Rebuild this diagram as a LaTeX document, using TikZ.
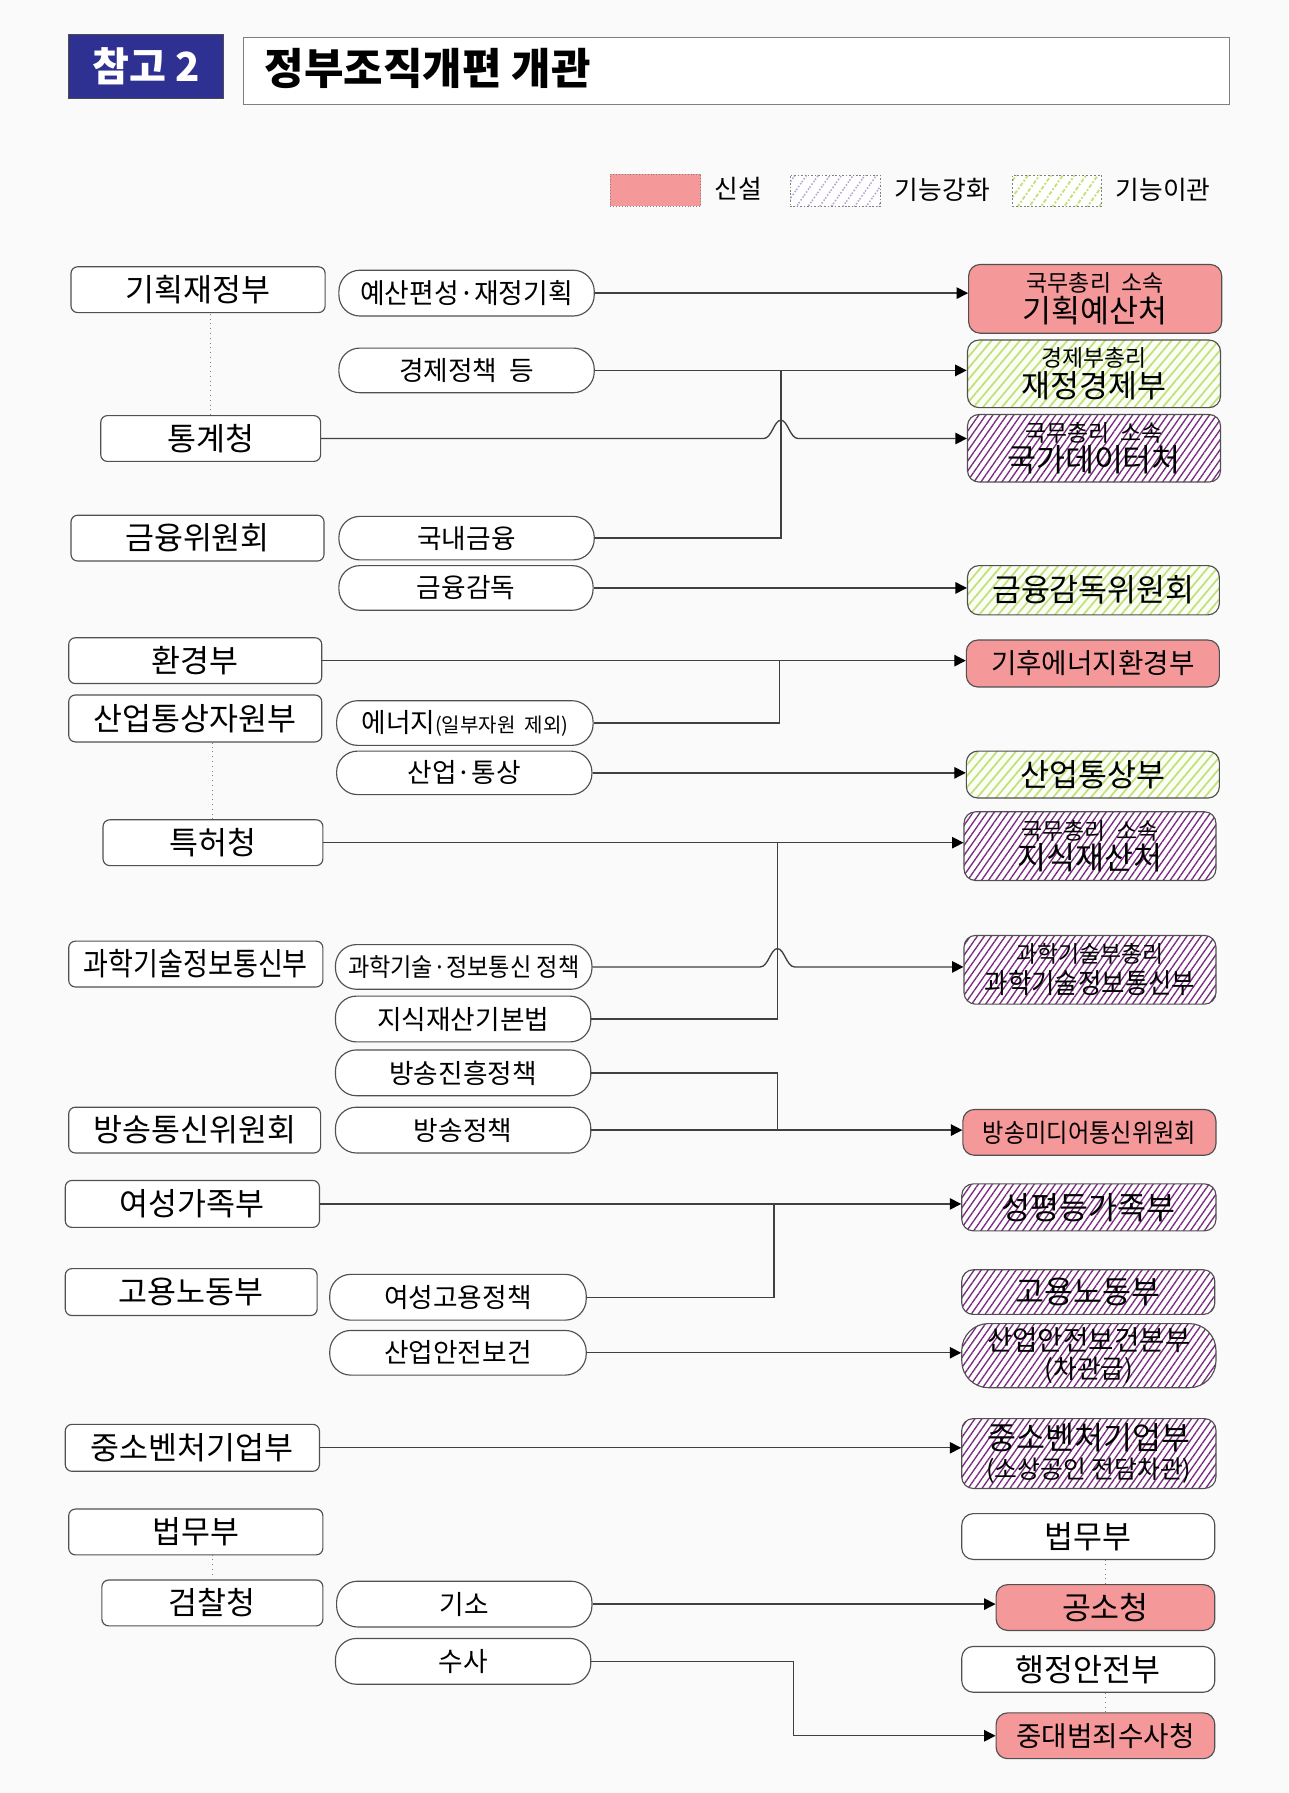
\documentclass[tikz,border=0pt]{standalone}
\usepackage{fontspec}
\usepackage{graphicx}
\setmainfont{Noto Sans CJK KR}
\usetikzlibrary{patterns.meta,arrows.meta,calc}
\definecolor{bgc}{HTML}{FAFAFA}
\definecolor{bord}{HTML}{505050}
\definecolor{linec}{HTML}{404040}
\definecolor{redc}{HTML}{F5989A}
\definecolor{purc}{HTML}{7A2A80}
\definecolor{grnc}{HTML}{C2E07A}
\definecolor{grnbg}{HTML}{FBFEF4}
\definecolor{lpurc}{HTML}{B9A2D2}
\definecolor{lgrnc}{HTML}{C4E274}
\definecolor{bluec}{HTML}{2E3192}
\newcommand\fzL{\fontsize{16.5}{18}\selectfont}
\newcommand\fzM{\fontsize{14}{16}\selectfont}
\newcommand\fzR{\fontsize{16.5}{18}\selectfont}
\newcommand\fzS{\fontsize{12}{13}\selectfont}
\newcommand\fzG{\fontsize{13.5}{15}\selectfont}
\begin{document}
\begin{tikzpicture}[x=0.6pt,y=-0.6pt,
  sz/.style 2 args={minimum width=#1*0.6pt, minimum height=#2*0.6pt},
  lbox/.style={draw=bord, fill=white, rounded corners=3.5pt, line width=0.6pt, inner sep=0pt, font=\fzL},
  mbox/.style={draw=bord, fill=white, rounded corners=11pt, line width=0.6pt, inner sep=0pt, font=\fzM},
  rbox/.style={draw=bord, fill=white, rounded corners=6pt, line width=0.6pt, inner sep=0pt, align=center, font=\fzR},
  newc/.style={rbox, fill=redc},
  strong/.style={rbox, fill=none, preaction={fill=white}, pattern={Lines[angle=55,distance=3pt,line width=0.7pt]}, pattern color=purc},
  moved/.style={rbox, fill=none, preaction={fill=grnbg}, pattern={Lines[angle=50,distance=3.8pt,line width=0.9pt]}, pattern color=grnc},
  conn/.style={draw=linec, line width=0.7pt},
  arr/.style={conn, -{Triangle[length=6pt,width=6pt,color=black]}},
  dotl/.style={draw=gray, line width=0.5pt, dotted},
  lgbox/.style={draw=gray, densely dotted, line width=0.5pt, inner sep=0pt},
]
\useasboundingbox (0,0) rectangle (1125,1566);
\fill[bgc] (0,0) rectangle (1125,1566);

% header
\node[fill=bluec, draw=black!70, line width=0.6pt, sz={135}{56}, inner sep=0pt, text=white, font=\fontsize{21}{23}\selectfont\bfseries] (hdr) at (127.5,58) {참고 2};
\node[draw=gray, fill=white, line width=0.6pt, sz={861}{58}, inner sep=0pt] (ttlbox) at (643.5,62) {};
\node[anchor=west, inner sep=0pt, font=\fontsize{22.5}{25}\selectfont\bfseries] (ttl) at (231,60) {정부조직개편\ 개관};

% legend
\node[lgbox, fill=redc, sz={79}{28}] (lg1) at (572.5,166) {};
\node[inner sep=0pt, font=\fzG] (lgt1) at (645,165) {신설};
\node[lgbox, fill=none, preaction={fill=white}, pattern={Lines[angle=55,distance=5pt,line width=0.8pt]}, pattern color=lpurc, sz={79}{27}] (lg2) at (729.5,166.5) {};
\node[inner sep=0pt, font=\fzG] (lgt2) at (823,166) {기능강화};
\node[lgbox, fill=none, preaction={fill=white}, pattern={Lines[angle=55,distance=5pt,line width=1pt]}, pattern color=lgrnc, sz={78}{27}] (lg3) at (923,166.5) {};
\node[inner sep=0pt, font=\fzG] (lgt3) at (1016,166) {기능이관};

% left column
\node[lbox, sz={222}{40}] (L1) at (173,253) {기획재정부};
\node[lbox, sz={192}{40}] (L2) at (184,383) {통계청};
\node[lbox, sz={221}{40}] (L3) at (172.5,470) {금융위원회};
\node[lbox, sz={221}{40}] (L4) at (170.5,577) {환경부};
\node[lbox, sz={221}{41}] (L5) at (170.5,627.5) {산업통상자원부};
\node[lbox, sz={192}{40}] (L6) at (186,736) {특허청};
\node[lbox, sz={222}{40}] (L7) at (171,842) {\scalebox{0.86}[1]{과학기술정보통신부}};
\node[lbox, sz={220}{40}] (L8) at (170,987) {방송통신위원회};
\node[lbox, sz={222}{41}] (L9) at (168,1051.5) {여성가족부};
\node[lbox, sz={220}{41}] (L10) at (167,1128.5) {고용노동부};
\node[lbox, sz={222}{41}] (L11) at (168,1264.5) {중소벤처기업부};
\node[lbox, sz={222}{40}] (L12) at (171,1338) {법무부};
\node[lbox, sz={193}{40}] (L13) at (185.5,1400) {검찰청};

% middle column
\node[mbox, sz={223}{40}] (M1) at (407.5,256) {\fontsize{14.5}{16}\selectfont\scalebox{0.97}[1]{예산편성·재정기획}};
\node[mbox, sz={223}{39}] (M2) at (407.5,323.5) {경제정책\ \ 등};
\node[mbox, sz={223}{38}] (M3) at (407.5,470) {국내금융};
\node[mbox, sz={222}{39}] (M4) at (407,513.5) {금융감독};
\node[mbox, sz={224}{39}] (M5) at (406,631.5) {에너지{\fontsize{10.5}{12}\selectfont(일부자원\ \ 제외)}};
\node[mbox, sz={223}{38}] (M6) at (405.5,675) {산업·통상};
\node[mbox, sz={224}{39}] (M7) at (405,844.5) {\fontsize{13.2}{15}\selectfont\scalebox{0.92}[1]{과학기술·정보통신 정책}};
\node[mbox, sz={223}{40}] (M8) at (404.5,890) {지식재산기본법};
\node[mbox, sz={223}{40}] (M9) at (404.5,937) {방송진흥정책};
\node[mbox, sz={223}{40}] (M10) at (404.5,987) {방송정책};
\node[mbox, sz={224}{40}] (M11) at (400,1133) {여성고용정책};
\node[mbox, sz={224}{39}] (M12) at (400,1181.5) {산업안전보건};
\node[mbox, sz={223}{40}] (M13) at (405.5,1401) {기소};
\node[mbox, sz={223}{40}] (M14) at (404.5,1451) {수사};

% right column
\node[newc, sz={221}{60}] (R1) at (956.5,261) {{\fzS 국무총리\ \ 소속}\\[-2pt]기획예산처};
\node[moved, sz={221}{59}] (R2) at (955.5,326.5) {{\fzS 경제부총리}\\[-2pt]재정경제부};
\node[strong, sz={221}{59}] (R3) at (955.5,391.5) {{\fzS 국무총리\ \ 소속}\\[-2pt]국가데이터처};
\node[moved, sz={220}{43}] (R4) at (955,515.5) {금융감독위원회};
\node[newc, sz={221}{41}] (R5) at (954.5,579.5) {\fontsize{14.5}{16}\selectfont 기후에너지환경부};
\node[moved, sz={221}{41}] (R6) at (954.5,676.5) {산업통상부};
\node[strong, sz={220}{60}] (R7) at (952,739) {{\fzS 국무총리\ \ 소속}\\[-2pt]지식재산처};
\node[strong, sz={220}{60}] (R8) at (952,847) {{\fzS 과학기술부총리}\\[-2pt]{\scalebox{0.92}[1]{\fontsize{14.5}{16}\selectfont 과학기술정보통신부}}};
\node[newc, sz={221}{40}] (R9) at (951.5,989) {\scalebox{0.9}[1]{\fontsize{13.5}{15}\selectfont 방송미디어통신위원회}};
\node[strong, sz={222}{41}] (R10) at (951,1054.5) {성평등가족부};
\node[strong, sz={221}{39}] (R11) at (950.5,1128.5) {고용노동부};
\node[strong, rounded corners=14pt, sz={222}{56}] (R12) at (951,1184) {{\fontsize{14.5}{16}\selectfont 산업안전보건본부}\\[-3pt]{\fontsize{13.5}{15}\selectfont (차관급)}};
\node[strong, sz={222}{61}] (R13) at (951,1269.5) {중소벤처기업부\\[-3pt]{\fontsize{13}{14}\selectfont (소상공인\ 전담차관)}};
\node[rbox, sz={221}{40}] (R14) at (950.5,1342) {법무부};
\node[newc, sz={191}{40}] (R15) at (965.5,1404) {공소청};
\node[rbox, sz={221}{40}] (R16) at (950.5,1458) {행정안전부};
\node[newc, sz={191}{40}] (R17) at (965.5,1516) {\fontsize{14.5}{16}\selectfont 중대범죄수사청};

% dotted links
\draw[dotl] (L2.north) -- (L2.north |- L1.south);
\draw[dotl] (L6.north) -- (L6.north |- L5.south);
\draw[dotl] (L13.north) -- (L13.north |- L12.south);
\draw[dotl] (R15.north) -- (R15.north |- R14.south);
\draw[dotl] (R17.north) -- (R17.north |- R16.south);

% junction x positions
\coordinate (j1) at (682,0);
\coordinate (j2) at (681,0);
\coordinate (j3) at (679,0);
\coordinate (j4) at (676,0);
\coordinate (j5) at (693,0);

% connectors
\draw[arr] (M1.east) -- (M1.east -| R1.west);
\draw[arr] (M2.east) -- (M2.east -| R2.west);
\draw[conn] (M3.east) -- (M3.east -| j1) -- (j1 |- M2.east);
\coordinate (h1) at (j1 |- L2.east);
\draw[arr] (L2.east) -- ($(h1)+(-15,0)$) .. controls ($(h1)+(-8,0)$) and ($(h1)+(-6,-16)$) .. ($(h1)+(0,-16)$) .. controls ($(h1)+(6,-16)$) and ($(h1)+(8,0)$) .. ($(h1)+(15,0)$) -- (L2.east -| R3.west);
\draw[arr] (M4.east) -- (M4.east -| R4.west);
\draw[arr] (L4.east) -- (L4.east -| R5.west);
\draw[conn] (M5.east) -- (M5.east -| j2) -- (j2 |- L4.east);
\draw[arr] (M6.east) -- (M6.east -| R6.west);
\draw[arr] (L6.east) -- (L6.east -| R7.west);
\draw[conn] (M8.east) -- (M8.east -| j3) -- (j3 |- L6.east);
\coordinate (h2) at (j3 |- M7.east);
\draw[arr] (M7.east) -- ($(h2)+(-15,0)$) .. controls ($(h2)+(-8,0)$) and ($(h2)+(-6,-16)$) .. ($(h2)+(0,-16)$) .. controls ($(h2)+(6,-16)$) and ($(h2)+(8,0)$) .. ($(h2)+(15,0)$) -- (M7.east -| R8.west);
\draw[conn] (M9.east) -- (M9.east -| j3) -- (j3 |- M10.east);
\draw[arr] (M10.east) -- (M10.east -| R9.west);
\draw[arr] (L9.east) -- (L9.east -| R10.west);
\draw[conn] (M11.east) -- (M11.east -| j4) -- (j4 |- L9.east);
\draw[arr] (M12.east) -- (M12.east -| R12.west);
\draw[arr] (L11.east) -- (L11.east -| R13.west);
\draw[arr] (M13.east) -- (M13.east -| R15.west);
\draw[arr] (M14.east) -- (M14.east -| j5) -- (j5 |- R17.west) -- (R17.west);
\end{tikzpicture}
\end{document}
